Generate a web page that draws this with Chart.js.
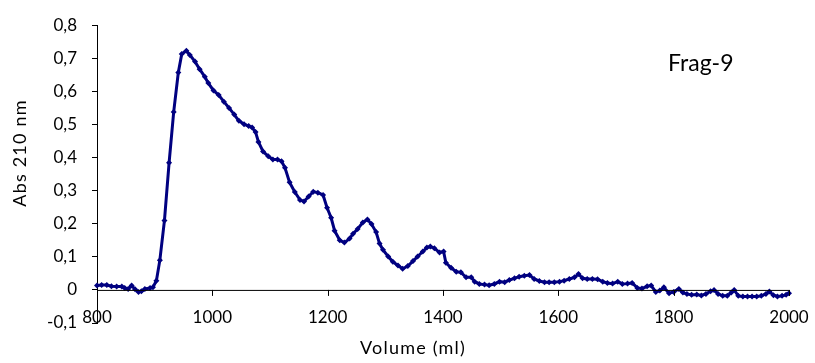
<!DOCTYPE html>
<html>
<head>
<meta charset="utf-8">
<script src="https://cdn.jsdelivr.net/npm/chart.js@4/dist/chart.umd.min.js"></script>
<style>
  html, body { margin: 0; padding: 0; background: #fff; }
  #wrap { width: 815px; height: 363px; }
</style>
</head>
<body>
<div id="wrap"><canvas id="mycanvas"></canvas></div>
<script>
// Frag-9 elution profile
const volumes = [
  800, 808, 817, 825, 834, 843, 848, 854, 860, 866, 872, 877, 883, 892, 897,
  903, 909, 917, 925, 933, 941, 947, 955, 961, 970, 978, 987, 993,
  1002, 1011, 1020, 1029, 1038, 1046, 1055, 1063, 1069, 1075, 1080, 1088, 1097,
  1105, 1113, 1120, 1126, 1134, 1143, 1152, 1159, 1167, 1175, 1183, 1192, 1199,
  1206, 1212, 1221, 1229, 1238, 1244, 1252, 1261, 1269, 1276, 1284, 1290, 1296,
  1305, 1313, 1322, 1330, 1339, 1348, 1356, 1365, 1372, 1378, 1385, 1394,
  1401, 1405, 1414, 1423, 1431, 1440, 1449, 1455, 1463, 1472, 1480, 1489, 1498,
  1507, 1515, 1524, 1532, 1541, 1550, 1558, 1567, 1576, 1584, 1593,
  1602, 1610, 1619, 1628, 1635, 1642, 1650, 1659, 1668, 1677, 1685, 1694,
  1703, 1711, 1720, 1728, 1737, 1745, 1754, 1761, 1769, 1776, 1783, 1792,
  1800, 1809, 1816, 1823, 1831, 1840, 1848, 1856, 1864, 1870, 1877, 1885, 1893,
  1900, 1905, 1912, 1920, 1928, 1936, 1944, 1952, 1960, 1966, 1973, 1980, 1988, 1995, 2000
];
const absorbance = [
  0.013, 0.015, 0.015, 0.011, 0.010, 0.010, 0.006, 0.003, 0.013, 0.002, -0.006, -0.004, 0.003, 0.006, 0.008,
  0.028, 0.090, 0.210, 0.384, 0.538, 0.657, 0.713, 0.723, 0.710, 0.690, 0.667, 0.644, 0.625,
  0.603, 0.589, 0.569, 0.550, 0.530, 0.511, 0.501, 0.495, 0.491, 0.477, 0.447, 0.418, 0.404,
  0.394, 0.394, 0.389, 0.369, 0.325, 0.296, 0.272, 0.267, 0.282, 0.297, 0.294, 0.287, 0.248,
  0.218, 0.179, 0.150, 0.143, 0.155, 0.170, 0.184, 0.204, 0.213, 0.199, 0.175, 0.140, 0.121,
  0.101, 0.085, 0.074, 0.064, 0.072, 0.087, 0.101, 0.116, 0.128, 0.131, 0.126, 0.113,
  0.116, 0.082, 0.067, 0.055, 0.053, 0.038, 0.038, 0.025, 0.018, 0.016, 0.014, 0.018, 0.025,
  0.023, 0.030, 0.035, 0.040, 0.043, 0.045, 0.033, 0.027, 0.023, 0.023, 0.023,
  0.025, 0.028, 0.033, 0.038, 0.048, 0.035, 0.033, 0.033, 0.032, 0.025, 0.021, 0.019,
  0.025, 0.018, 0.019, 0.021, 0.006, 0.004, 0.011, 0.013, -0.006, -0.002, 0.008, -0.010,
  -0.006, 0.003, -0.008, -0.012, -0.015, -0.014, -0.017, -0.012, -0.004, 0.000, -0.012, -0.018, -0.018,
  -0.008, 0.000, -0.018, -0.020, -0.020, -0.020, -0.020, -0.018, -0.012, -0.005, -0.016, -0.020, -0.018, -0.015, -0.010
];
const xTicks = [800, 1000, 1200, 1400, 1600, 1800, 2000];
const yMin = -0.1, yMax = 0.8;
const label = 'Frag-9';
const xTitle = 'Volume (ml)';
const yTitle = 'Abs 210 nm';

const FONT = 'Lato, "Open Sans", sans-serif';
const navy = '#000080';

const points = volumes.map(function (v, i) { return { x: v, y: absorbance[i] }; });

// Excel style: axis line at y = 0 with ticks, labels low, titles and the tag text
const extras = {
  id: 'extras',
  afterDraw: function (chart) {
    const ctx = chart.ctx;
    const xs = chart.scales.x, ys = chart.scales.y;
    const y0 = ys.getPixelForValue(0);
    const yLow = ys.getPixelForValue(yMin);
    ctx.save();
    ctx.strokeStyle = '#000';
    ctx.lineWidth = 1;
    ctx.beginPath();
    ctx.moveTo(xs.left, y0 + 0.5);
    ctx.lineTo(xs.right, y0 + 0.5);
    xTicks.forEach(function (t) {
      const px = Math.round(xs.getPixelForValue(t)) + 0.5;
      ctx.moveTo(px, y0);
      ctx.lineTo(px, y0 + 6);
    });
    ctx.stroke();

    ctx.fillStyle = '#000';
    ctx.textBaseline = 'middle';
    ctx.textAlign = 'center';
    ctx.font = '17px ' + FONT;
    xTicks.forEach(function (t) {
      ctx.fillText(String(t), xs.getPixelForValue(t), yLow - 5);
    });

    ctx.font = '18px ' + FONT;
    ctx.letterSpacing = '1.2px';
    ctx.fillText(xTitle, 413, 348);

    ctx.save();
    ctx.translate(20, 153);
    ctx.rotate(-Math.PI / 2);
    ctx.fillText(yTitle, 0, 0);
    ctx.restore();

    ctx.letterSpacing = '0px';
    ctx.font = '23px ' + FONT;
    ctx.textAlign = 'left';
    ctx.fillText(label, 668, 64);
    ctx.restore();
  }
};

const data = {
  datasets: [{
    data: points,
    borderColor: navy,
    backgroundColor: navy,
    borderWidth: 3,
    pointStyle: 'rectRot',
    pointRadius: 3,
    pointBorderWidth: 0,
    pointBackgroundColor: navy,
    tension: 0,
    clip: false
  }]
};

const config = {
  type: 'line',
  data,
  plugins: [extras],
  options: {
    responsive: true,
    maintainAspectRatio: false,
    animation: false,
    layout: { padding: { left: 0, right: 26, top: 15, bottom: 0 } },
    plugins: { legend: { display: false }, tooltip: { enabled: false } },
    scales: {
      x: {
        type: 'linear',
        min: 800, max: 2000,
        afterBuildTicks: function (s) { s.ticks = xTicks.map(function (v) { return { value: v }; }); },
        afterFit: function (s) { s.height = 40; },
        border: { display: false },
        grid: { display: false, drawTicks: false },
        ticks: { display: false }
      },
      y: {
        min: yMin, max: yMax,
        afterFit: function (s) { s.width = 97; },
        border: { display: true, color: '#000', width: 1 },
        grid: { drawOnChartArea: false, drawTicks: true, tickLength: 5, color: '#000' },
        ticks: {
          stepSize: 0.1, color: '#000', font: { family: FONT, size: 17 }, padding: 15,
          callback: function (v) { return String(Math.round(v * 10) / 10).replace('.', ','); }
        }
      }
    }
  }
};

const myChart = new Chart(document.getElementById('mycanvas'), config);
</script>
</body>
</html>
